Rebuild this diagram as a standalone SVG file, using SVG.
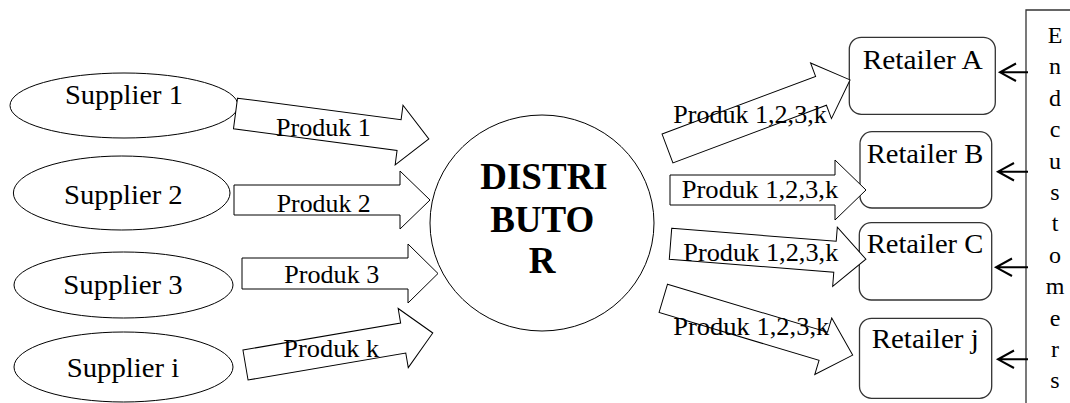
<svg xmlns="http://www.w3.org/2000/svg" width="1070" height="403" viewBox="0 0 1070 403">
<style>
.shape{fill:#fff;stroke:#000;stroke-width:1}
.box{fill:#fff;stroke:#333;stroke-width:1.3}
.blk{fill:#fff;stroke:#000;stroke-width:1}
.t{font-family:"Liberation Serif","Times New Roman",serif;font-size:27px;fill:#000}
.p{font-family:"Liberation Serif","Times New Roman",serif;font-size:26px;fill:#000}
.big{font-family:"Liberation Serif","Times New Roman",serif;font-size:37px;font-weight:bold;fill:#000;text-anchor:middle}
.ec{font-family:"Liberation Serif","Times New Roman",serif;font-size:24px;fill:#000;text-anchor:middle}
.sm{fill:none;stroke:#000;stroke-width:2}
</style>
<rect width="1070" height="403" fill="#fff"/>

<g id="supplier1"><ellipse class="shape" cx="124" cy="105.5" rx="114" ry="32.5"/><text class="t" x="65" y="104" textLength="118" lengthAdjust="spacingAndGlyphs">Supplier 1</text></g>
<g id="supplier2"><ellipse class="shape" cx="121.7" cy="193" rx="108.3" ry="37"/><text class="t" x="64" y="204" textLength="118.7" lengthAdjust="spacingAndGlyphs">Supplier 2</text></g>
<g id="supplier3"><ellipse class="shape" cx="123.5" cy="285" rx="109.5" ry="33"/><text class="t" x="63.3" y="294" textLength="119.4" lengthAdjust="spacingAndGlyphs">Supplier 3</text></g>
<g id="supplieri"><ellipse class="shape" cx="123.5" cy="367" rx="109.5" ry="35"/><text class="t" x="66.7" y="376.7" textLength="112.6" lengthAdjust="spacingAndGlyphs">Supplier i</text></g>

<g id="distributor"><ellipse class="shape" cx="542" cy="223" rx="112" ry="108"/>
<text class="big" x="544" y="189.3">DISTRI</text>
<text class="big" x="542.3" y="231.7">BUTO</text>
<text class="big" x="542" y="273">R</text></g>

<g id="retailerA"><rect class="box" x="849.3" y="37.3" width="146" height="77" rx="12"/><text class="t" x="862.7" y="69" textLength="120" lengthAdjust="spacingAndGlyphs">Retailer A</text></g>
<g id="retailerB"><rect class="box" x="860" y="131.7" width="131.7" height="76.3" rx="12"/><text class="t" x="866.7" y="163.3" textLength="116.6" lengthAdjust="spacingAndGlyphs">Retailer B</text></g>
<g id="retailerC"><rect class="box" x="859.3" y="222.7" width="132.4" height="77.3" rx="12"/><text class="t" x="866.7" y="253.3" textLength="116.6" lengthAdjust="spacingAndGlyphs">Retailer C</text></g>
<g id="retailerj"><rect class="box" x="859.5" y="318.3" width="132.2" height="80" rx="12"/><text class="t" x="871.7" y="348.3" textLength="107" lengthAdjust="spacingAndGlyphs">Retailer j</text></g>

<g id="endCustomers"><path d="M1070,10 H1026 V403" fill="none" stroke="#333" stroke-width="1.3"/>
<text class="ec" x="1055" y="43">E</text>
<text class="ec" x="1055" y="74.4">n</text>
<text class="ec" x="1055" y="105.8">d</text>
<text class="ec" x="1055" y="137.2">c</text>
<text class="ec" x="1055" y="168.6">u</text>
<text class="ec" x="1055" y="200">s</text>
<text class="ec" x="1055" y="231.4">t</text>
<text class="ec" x="1055" y="262.8">o</text>
<text class="ec" x="1055" y="294.2">m</text>
<text class="ec" x="1055" y="325.6">e</text>
<text class="ec" x="1055" y="357">r</text>
<text class="ec" x="1055" y="388.4">s</text></g>

<g id="connectors">
<polygon class="blk" transform="translate(235.5,113.5) rotate(7.5)" points="0,-15.5 165,-15.5 165,-30 195,0 165,30 165,15.5 0,15.5"/>
<polygon class="blk" transform="translate(234,200)" points="0,-15 166,-15 166,-29 196,0 166,29 166,15 0,15"/>
<polygon class="blk" transform="translate(242,273.5)" points="0,-15.5 166,-15.5 166,-29.5 196,0 166,29.5 166,15.5 0,15.5"/>
<polygon class="blk" transform="translate(245.5,365) rotate(-9.7)" points="0,-15.2 160,-15.2 160,-30 190,0 160,30 160,15.2 0,15.2"/>
<polygon class="blk" transform="translate(667.5,148.5) rotate(-20.6)" points="0,-15.4 164,-15.4 164,-29.7 195,0 164,29.7 164,15.4 0,15.4"/>
<polygon class="blk" transform="translate(670,190)" points="0,-15 165,-15 165,-30 196,0 165,30 165,15 0,15"/>
<polygon class="blk" transform="translate(670.5,243.8) rotate(4.5)" points="0,-15.5 165,-15.5 165,-29.7 196,0 165,29.7 165,15.5 0,15.5"/>
<polygon class="blk" transform="translate(663.3,298.3) rotate(16.7)" points="0,-14.7 167,-14.7 167,-29.5 197.7,0 167,29.5 167,14.7 0,14.7"/>
<text class="p" x="276" y="136" textLength="94.7" lengthAdjust="spacingAndGlyphs">Produk 1</text>
<text class="p" x="276.7" y="211.7" textLength="94" lengthAdjust="spacingAndGlyphs">Produk 2</text>
<text class="p" x="284.3" y="283.3" textLength="95" lengthAdjust="spacingAndGlyphs">Produk 3</text>
<text class="p" x="283.3" y="357.3" textLength="96" lengthAdjust="spacingAndGlyphs">Produk k</text>
<text class="p" x="673.3" y="123.3" textLength="153.4" lengthAdjust="spacingAndGlyphs">Produk 1,2,3,k</text>
<text class="p" x="681.7" y="198.3" textLength="156.6" lengthAdjust="spacingAndGlyphs">Produk 1,2,3,k</text>
<text class="p" x="683.3" y="260.7" textLength="155" lengthAdjust="spacingAndGlyphs">Produk 1,2,3,k</text>
<text class="p" x="673.3" y="335" textLength="156" lengthAdjust="spacingAndGlyphs">Produk 1,2,3,k</text>
<path class="sm" d="M1028,72.3 H1000 M1016,63.5 L1000,72.3 L1016,81"/>
<path class="sm" d="M1028,171.7 H998 M1014,163 L998,171.7 L1014,180.5"/>
<path class="sm" d="M1028,267.3 H996 M1012,258.5 L996,267.3 L1012,276"/>
<path class="sm" d="M1028,359.3 H998 M1014,350.5 L998,359.3 L1014,368"/>
</g>
</svg>
